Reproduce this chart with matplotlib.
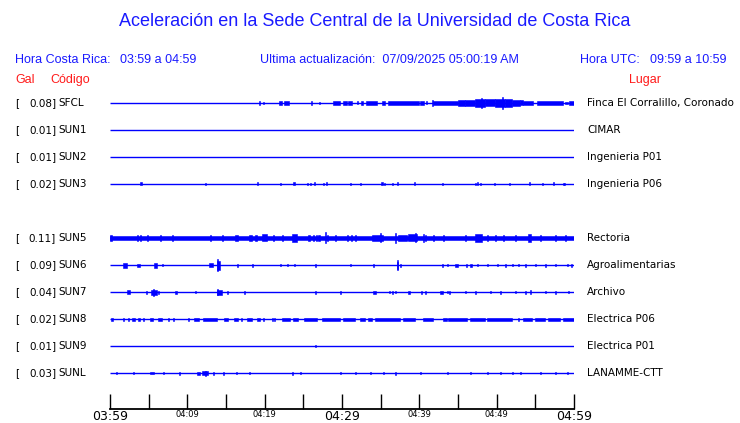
import matplotlib
matplotlib.use("Agg")
import matplotlib.pyplot as plt

# ---------------- data ----------------
title = "Aceleración en la Sede Central de la Universidad de Costa Rica"
hora_cr = "03:59 a 04:59"
hora_utc = "09:59 a 10:59"
actualizacion = "07/09/2025 05:00:19 AM"

# row index (row 4 is empty)
rows = [0, 1, 2, 3, 5, 6, 7, 8, 9, 10]
codes = ["SFCL", "SUN1", "SUN2", "SUN3", "SUN5", "SUN6", "SUN7", "SUN8", "SUN9", "SUNL"]
gal = [0.08, 0.01, 0.01, 0.02, 0.11, 0.09, 0.04, 0.02, 0.01, 0.03]
lugares = ["Finca El Corralillo, Coronado", "CIMAR", "Ingenieria P01", "Ingenieria P06",
           "Rectoria", "Agroalimentarias", "Archivo", "Electrica P06", "Electrica P01",
           "LANAMME-CTT"]

tick_minutes = [0, 5, 10, 15, 20, 25, 30, 35, 40, 45, 50, 55, 60]
tick_labels = ["03:59", "", "04:09", "", "04:19", "", "04:29", "", "04:39", "", "04:49", "", "04:59"]
big_labels = ["03:59", "04:29", "04:59"]

# envelope of each trace: (start minute, end minute, half amplitude)
env_SFCL = [(19.27, 19.27, 2), (19.78, 19.78, 1), (21.85, 22.24, 1.8), (22.5, 23.14, 2.2),
            (25.99, 25.99, 2), (27.02, 27.02, 1), (28.83, 29.74, 2), (30.13, 30.64, 1.8),
            (30.77, 31.29, 1.8), (31.94, 31.94, 1.5), (32.45, 32.71, 1.8), (33.1, 34.52, 1.8),
            (35.17, 35.56, 1.8), (35.95, 39.95, 1.8), (40.08, 40.6, 1.8), (40.86, 40.86, 1.5),
            (41.63, 41.63, 3), (41.76, 45.0, 1.8), (45.0, 45.9, 2.8), (45.9, 47.19, 3.3),
            (47.19, 48.49, 3.8), (48.0, 48.0, 5), (48.49, 49.78, 3.5), (49.78, 51.07, 4.2),
            (50.69, 50.69, 6.3), (51.07, 51.98, 3.8), (51.98, 53.01, 3.2), (53.01, 53.4, 2.5),
            (53.4, 54.69, 1.8), (55.21, 58.57, 1.8), (58.83, 59.22, 1), (59.35, 60, 1.8)]
env_SUN1 = []
env_SUN2 = []
env_SUN3 = [(3.88, 4.1, 1.5), (12.28, 12.28, 1), (19.01, 19.2, 1.5), (21.98, 21.98, 1),
            (23.66, 23.9, 1.5), (25.47, 25.47, 0.8), (25.86, 25.86, 1), (26.38, 26.38, 1.5),
            (27.54, 27.54, 1), (27.9, 28.1, 1.5), (31.03, 31.03, 1), (32.33, 32.33, 0.8),
            (35.0, 35.3, 1.5), (35.43, 35.43, 1), (36.46, 36.46, 1), (37.05, 37.2, 1.5),
            (39.31, 39.45, 1.5), (42.93, 42.93, 1), (47.19, 47.19, 1), (47.5, 47.65, 1.5),
            (47.84, 47.84, 1), (49.65, 49.65, 1), (51.59, 51.59, 1), (54.18, 54.3, 1.5),
            (55.86, 55.86, 1), (57.28, 57.4, 1.5), (58.57, 58.57, 1), (58.7, 58.7, 1)]
env_SUN5 = [(0, 60, 2.2), (0, 0.3, 2.8), (3.49, 3.6, 2.8), (3.88, 4.0, 3.2), (4.78, 4.9, 2.8),
            (6.47, 6.47, 2.8), (8.02, 8.02, 2.6), (12.93, 12.93, 2.6), (14.48, 14.48, 2.6),
            (16.2, 16.55, 3), (17.97, 18.36, 3), (18.75, 19.01, 2.8), (19.65, 20.3, 3.5),
            (21.08, 21.08, 2.8), (22.24, 22.37, 2.8), (23.53, 24.18, 4), (25.6, 25.86, 2.8),
            (26.25, 26.25, 2.8), (26.64, 26.64, 3), (26.9, 27.15, 2.8), (27.8, 27.8, 5.5),
            (28.06, 28.06, 3), (29.09, 29.09, 2.8), (30.64, 30.64, 2.6), (31.16, 31.16, 2.6),
            (31.68, 31.68, 2.6), (33.88, 35.3, 3.2), (34.91, 34.91, 4.5), (36.85, 36.85, 5),
            (37.24, 38.4, 3), (38.53, 39.7, 3.5), (39.44, 39.44, 4.5), (40.47, 40.47, 4),
            (40.73, 40.73, 3), (41.76, 41.76, 2.8), (43.06, 43.06, 2.6), (45.9, 46.03, 3),
            (47.19, 48.1, 3.8), (48.75, 48.75, 2.8), (49.78, 49.78, 2.6), (50.81, 50.9, 2.8),
            (52.37, 52.37, 2.6), (54.1, 54.5, 4), (55.6, 55.6, 2.8), (57.54, 57.54, 2.6),
            (58.83, 58.83, 2.6)]
env_SUN6 = [(1.68, 2.2, 2.5), (3.49, 3.88, 1.5), (5.69, 6.08, 2.5), (6.72, 6.72, 1),
            (12.8, 13.32, 2), (13.84, 13.84, 6), (13.84, 14.22, 4.5), (16.42, 16.55, 1.5),
            (18.36, 18.36, 1.5), (21.98, 21.98, 0.8), (22.89, 22.89, 1), (23.79, 23.79, 0.8),
            (26.51, 26.51, 1.5), (31.03, 31.03, 0.8), (33.99, 33.99, 1.5), (37.11, 37.11, 5),
            (37.11, 37.3, 3.5), (37.5, 37.5, 1.5), (42.93, 42.93, 1.5), (43.57, 43.57, 1),
            (44.61, 45.0, 1.5), (46.03, 46.03, 1.5), (46.55, 46.81, 1.5), (47.45, 47.45, 1),
            (48.75, 48.75, 1), (50.04, 50.04, 1), (51.07, 51.07, 1.5), (51.98, 51.98, 1),
            (52.75, 52.75, 1), (53.66, 53.66, 1.5), (54.95, 54.95, 1), (56.25, 56.25, 1.5),
            (57.54, 57.54, 1), (59.09, 59.09, 1), (59.61, 59.61, 1.5)]
env_SUN7 = [(2.2, 2.59, 2), (4.65, 4.65, 1.5), (5.3, 6.08, 2.5), (5.56, 5.56, 3.5),
            (6.21, 6.21, 1.5), (8.4, 8.6, 1.5), (10.99, 10.99, 1), (13.84, 14.48, 2.5),
            (13.84, 13.84, 3), (15.13, 15.13, 1.5), (17.33, 17.33, 1.5), (26.51, 26.64, 1.5),
            (29.74, 29.87, 1.5), (33.99, 34.4, 1.5), (36.07, 36.07, 1), (36.46, 36.59, 1.5),
            (36.85, 36.85, 1), (38.53, 38.79, 1.5), (40.2, 40.2, 1.5), (40.73, 40.73, 1.5),
            (42.67, 43.06, 1.5), (43.57, 43.57, 1), (43.83, 43.83, 1.5), (45.9, 45.9, 1),
            (47.19, 47.19, 1.5), (49.13, 49.13, 1), (50.43, 50.43, 1.5), (52.37, 52.37, 1),
            (53.66, 53.66, 1.5), (54.31, 54.5, 2), (56.25, 56.25, 1), (57.54, 57.54, 1.5),
            (59.22, 59.22, 1)]
env_SUN8 = [(0.13, 0.39, 1.5), (1.68, 1.68, 1.5), (2.33, 2.33, 1.5), (2.84, 3.23, 1.5),
            (3.62, 3.88, 1.5), (4.27, 4.27, 1.5), (5.17, 5.56, 1.5), (6.21, 6.72, 1.5),
            (7.5, 7.5, 1.5), (8.15, 8.15, 1.5), (10.09, 10.09, 1.5), (10.86, 11.51, 1.5),
            (12.02, 13.84, 1.5), (14.74, 15.26, 1.5), (16.03, 16.55, 1.5), (16.94, 16.94, 1.5),
            (17.71, 18.36, 1.5), (19.01, 19.4, 1.5), (19.78, 19.78, 1.5), (20.95, 20.95, 1.5),
            (21.21, 21.21, 1.5), (22.24, 23.27, 1.5), (23.66, 24.31, 1.5), (25.08, 26.77, 1.5),
            (27.41, 29.74, 1.5), (30.13, 31.68, 1.5), (32.33, 32.97, 1.5), (33.36, 33.88, 1.5),
            (34.26, 37.5, 1.5), (37.88, 39.44, 1.5), (40.47, 41.76, 1.5), (43.06, 43.57, 1.5),
            (43.7, 46.16, 1.5), (46.55, 48.49, 1.5), (48.75, 51.98, 1.5), (52.75, 52.75, 1.5),
            (53.4, 54.56, 1.5), (54.95, 56.25, 1.5), (56.63, 58.19, 1.5), (58.57, 60, 1.5)]
env_SUN9 = [(26.51, 26.51, 0.6)]
env_SUNL = [(0.78, 0.78, 1), (2.97, 2.97, 1), (5.17, 5.69, 1), (6.85, 6.85, 0.8),
            (8.92, 8.92, 1.5), (11.25, 11.64, 1.5), (11.9, 12.67, 2), (12.28, 12.28, 2.5),
            (13.32, 13.32, 1.5), (14.61, 14.61, 1.5), (16.29, 16.29, 1), (17.97, 17.97, 1),
            (23.53, 23.53, 1.5), (24.57, 24.57, 1), (29.74, 29.74, 1), (31.68, 31.68, 1),
            (33.62, 33.62, 1), (35.3, 35.3, 1), (36.85, 36.85, 1.5), (40.08, 40.08, 1),
            (43.57, 43.57, 1), (46.55, 46.55, 1), (48.75, 48.75, 1), (50.43, 50.43, 1),
            (51.98, 51.98, 1), (53.01, 53.01, 1), (55.6, 55.6, 1), (57.54, 57.54, 1),
            (59.09, 59.09, 1)]
envelopes = [env_SFCL, env_SUN1, env_SUN2, env_SUN3, env_SUN5, env_SUN6, env_SUN7,
             env_SUN8, env_SUN9, env_SUNL]

# ---------------- style ----------------
W, H = 740, 423
BLUE = "#0000ff"
TXT_BLUE = "#1a1aff"
RED = "#ff1a1a"
ROW_PX = 27.0
ROW0_PX = 103.0
AX_LEFT, AX_RIGHT = 110, 574
AX_TOP, AX_BOT = 90, 409

fig = plt.figure(figsize=(W / 100, H / 100), dpi=100)
fig.patch.set_facecolor("white")


def fx(px):
    return px / W


def fy(py):
    return 1 - py / H


ax = fig.add_axes([fx(AX_LEFT), fy(AX_BOT), fx(AX_RIGHT - AX_LEFT), (AX_BOT - AX_TOP) / H])
ax.set_xlim(0, 60)
ax.set_ylim(-(AX_BOT - ROW0_PX) / ROW_PX, (ROW0_PX - AX_TOP) / ROW_PX)
for s in ["top", "left", "right"]:
    ax.spines[s].set_visible(False)
ax.spines["bottom"].set_linewidth(1.3)
ax.set_yticks([])
ax.set_xticks(tick_minutes)
ax.set_xticklabels(tick_labels)
ax.tick_params(axis="x", direction="in", length=11, width=1.0, pad=0.5)
for lab in ax.get_xticklabels():
    if lab.get_text() in big_labels:
        lab.set_fontsize(9)
    else:
        lab.set_fontsize(6)
    lab.set_family("DejaVu Sans")

scale = 1.0 / ROW_PX
for r, env in zip(rows, envelopes):
    y = -r
    ax.plot([0, 60], [y, y], color=BLUE, lw=1.0, solid_capstyle="butt")
    for t0, t1, a in env:
        w = max(t1 - t0, 0.1)
        ax.bar(t0, 2 * a * scale, width=w, bottom=y - a * scale, align="edge",
               color=BLUE, edgecolor=BLUE, linewidth=0.4)

# ---------------- texts ----------------
hf = "Liberation Sans"
fig.text(fx(375), fy(22), title, ha="center", va="center", fontsize=13, color=TXT_BLUE, family=hf)
fig.text(fx(15), fy(60), "Hora Costa Rica:", ha="left", va="center", fontsize=9, color=TXT_BLUE, family=hf)
fig.text(fx(120), fy(60), hora_cr, ha="left", va="center", fontsize=9, color=TXT_BLUE, family=hf)
fig.text(fx(260), fy(60), "Ultima actualización:  " + actualizacion, ha="left", va="center",
         fontsize=9, color=TXT_BLUE, family=hf)
fig.text(fx(580), fy(60), "Hora UTC:", ha="left", va="center", fontsize=9, color=TXT_BLUE, family=hf)
fig.text(fx(650), fy(60), hora_utc, ha="left", va="center", fontsize=9, color=TXT_BLUE, family=hf)
fig.text(fx(15), fy(80), "Gal", ha="left", va="center", fontsize=9, color=RED, family=hf)
fig.text(fx(50), fy(80), "Código", ha="left", va="center", fontsize=9, color=RED, family=hf)
fig.text(fx(645), fy(80), "Lugar", ha="center", va="center", fontsize=9, color=RED, family=hf)

for r, c, g, lug in zip(rows, codes, gal, lugares):
    py = ROW0_PX + r * ROW_PX
    fig.text(fx(15), fy(py), "[", ha="left", va="center", fontsize=7.5, family="DejaVu Sans")
    fig.text(fx(56), fy(py), f"{g:.2f}]", ha="right", va="center", fontsize=7.5, family="DejaVu Sans")
    fig.text(fx(58), fy(py), c, ha="left", va="center", fontsize=7.5, family="DejaVu Sans")
    fig.text(fx(587), fy(py), lug, ha="left", va="center", fontsize=7.5, family="DejaVu Sans")

fig.savefig("out.png", dpi=100)
